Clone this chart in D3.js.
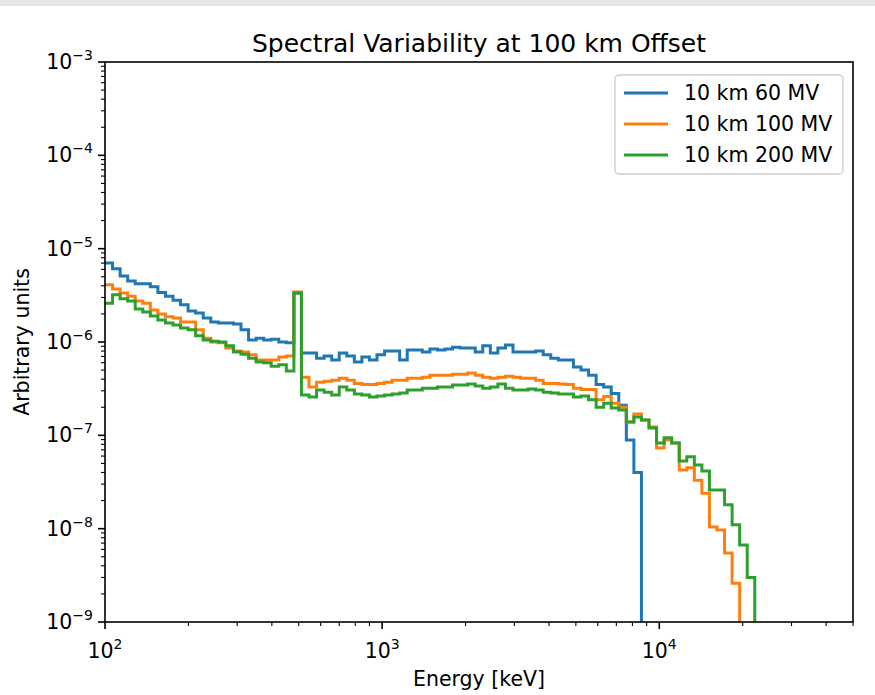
<!DOCTYPE html>
<html>
<head>
<meta charset="utf-8">
<script src="https://cdn.jsdelivr.net/npm/d3@7"></script>
<style>
  html, body { margin: 0; padding: 0; background: #ffffff; }
  svg { display: block; font-family: "DejaVu Sans", sans-serif; }
</style>
</head>
<body>
<svg id="chart" width="875" height="695"></svg>
<script>
// Histogram binning: log-spaced edges from 100 keV to 50 MeV
const binLow = 100;
const binHigh = 50000;
const binCount = 99;

const seriesNames = ["10 km 60 MV", "10 km 100 MV", "10 km 200 MV"];
const seriesColors = ["#1f77b4", "#ff7f0e", "#2ca02c"];

// Counts per bin (arbitrary units); trailing zeros are empty bins
const counts60MV = [
  7.0e-6, 6.1e-6, 5.1e-6, 4.5e-6, 4.2e-6, 4.2e-6, 3.9e-6, 3.4e-6, 3.1e-6, 2.8e-6,
  2.5e-6, 2.15e-6, 2.05e-6, 1.81e-6, 1.64e-6, 1.6e-6, 1.6e-6, 1.56e-6, 1.35e-6, 1.05e-6,
  1.1e-6, 1.05e-6, 1.07e-6, 1.0e-6, 9.8e-7, 3.34e-6, 7.6e-7, 7.6e-7, 6.7e-7, 7.1e-7,
  6.4e-7, 7.6e-7, 7.1e-7, 6.1e-7, 6.9e-7, 6.4e-7, 7.3e-7, 8.0e-7, 8.0e-7, 6.4e-7,
  8.2e-7, 8.2e-7, 7.8e-7, 8.4e-7, 8.2e-7, 8.4e-7, 8.8e-7, 8.6e-7, 8.6e-7, 7.8e-7,
  9.1e-7, 7.6e-7, 8.6e-7, 9.3e-7, 7.8e-7, 7.8e-7, 7.8e-7, 8.0e-7, 7.3e-7, 6.7e-7,
  6.4e-7, 6.4e-7, 5.4e-7, 5.0e-7, 4.4e-7, 3.5e-7, 3.3e-7, 2.8e-7, 2.1e-7, 8.9e-8,
  4.0e-8, 0, 0, 0, 0, 0, 0, 0, 0, 0,
  0, 0, 0, 0, 0, 0, 0, 0, 0, 0,
  0, 0, 0, 0, 0, 0, 0, 0, 0
];

const counts100MV = [
  4.1e-6, 3.7e-6, 3.34e-6, 3.1e-6, 2.75e-6, 2.6e-6, 2.2e-6, 2.0e-6, 1.86e-6, 1.81e-6,
  1.64e-6, 1.64e-6, 1.35e-6, 1.1e-6, 1.0e-6, 9.8e-7, 8.6e-7, 8.0e-7, 7.8e-7, 7.3e-7,
  6.4e-7, 6.4e-7, 6.4e-7, 6.9e-7, 7.1e-7, 3.43e-6, 4.2e-7, 3.3e-7, 3.7e-7, 3.8e-7,
  3.9e-7, 4.1e-7, 3.9e-7, 3.6e-7, 3.5e-7, 3.5e-7, 3.6e-7, 3.7e-7, 3.9e-7, 3.9e-7,
  4.1e-7, 4.1e-7, 4.2e-7, 4.4e-7, 4.4e-7, 4.4e-7, 4.5e-7, 4.5e-7, 4.65e-7, 4.4e-7,
  4.2e-7, 4.1e-7, 4.2e-7, 4.3e-7, 4.2e-7, 4.1e-7, 4.1e-7, 3.9e-7, 3.6e-7, 3.6e-7,
  3.55e-7, 3.5e-7, 3.2e-7, 3.1e-7, 3.1e-7, 2.4e-7, 2.6e-7, 2.2e-7, 2.0e-7, 1.39e-7,
  1.69e-7, 1.46e-7, 1.23e-7, 7.3e-8, 8.9e-8, 8.3e-8, 4.25e-8, 4.5e-8, 3.3e-8, 2.4e-8,
  1.04e-8, 9.7e-9, 5.5e-9, 2.6e-9, 0, 0, 0, 0, 0, 0,
  0, 0, 0, 0, 0, 0, 0, 0, 0
];

const counts200MV = [
  2.6e-6, 3.2e-6, 2.9e-6, 2.75e-6, 2.26e-6, 2.1e-6, 1.9e-6, 1.72e-6, 1.6e-6, 1.52e-6,
  1.41e-6, 1.35e-6, 1.17e-6, 1.05e-6, 1.02e-6, 1.0e-6, 9.1e-7, 7.8e-7, 7.4e-7, 6.7e-7,
  6.1e-7, 6.0e-7, 5.5e-7, 5.7e-7, 4.9e-7, 3.34e-6, 2.7e-7, 2.57e-7, 3.06e-7, 2.9e-7,
  2.7e-7, 3.3e-7, 3.06e-7, 2.77e-7, 2.7e-7, 2.57e-7, 2.64e-7, 2.7e-7, 2.77e-7, 2.84e-7,
  3.06e-7, 3.06e-7, 3.2e-7, 3.2e-7, 3.3e-7, 3.3e-7, 3.46e-7, 3.46e-7, 3.55e-7, 3.38e-7,
  3.2e-7, 3.3e-7, 3.55e-7, 3.2e-7, 3.06e-7, 3.06e-7, 3.14e-7, 3.06e-7, 2.9e-7, 2.84e-7,
  2.77e-7, 2.77e-7, 2.57e-7, 2.64e-7, 2.4e-7, 2.0e-7, 2.2e-7, 1.96e-7, 1.87e-7, 1.39e-7,
  1.57e-7, 1.46e-7, 1.2e-7, 8.3e-8, 9.4e-8, 8.3e-8, 5.3e-8, 5.9e-8, 4.8e-8, 4.15e-8,
  2.6e-8, 2.6e-8, 1.8e-8, 1.1e-8, 6.7e-9, 3.0e-9, 0, 0, 0, 0,
  0, 0, 0, 0, 0, 0, 0, 0, 0
];

const seriesData = [counts60MV, counts100MV, counts200MV];

const xMajorTicks = [1e2, 1e3, 1e4];
const xTickExponents = ["2", "3", "4"];
const yMajorTicks = [1e-3, 1e-4, 1e-5, 1e-6, 1e-7, 1e-8, 1e-9];
const yTickExponents = ["\u22123", "\u22124", "\u22125", "\u22126", "\u22127", "\u22128", "\u22129"];

const titleText = "Spectral Variability at 100 km Offset";
const xLabelText = "Energy [keV]";
const yLabelText = "Arbitrary units";

// ---- layout ----
const plot = { left: 105, right: 853, top: 62, bottom: 622 };
const labelSize = 20.5;
const supSize = 14;

const svg = d3.select("#chart");

// thin grey band along the top edge of the page
svg.append("rect").attr("x", 0).attr("y", 0).attr("width", 875).attr("height", 6)
  .attr("fill", "#e6e6e6");

const x = d3.scaleLog().domain([binLow, binHigh]).range([plot.left, plot.right]);
const y = d3.scaleLog().domain([1e-9, 1e-3]).range([plot.bottom, plot.top]);

const edges = d3.range(binCount + 1).map(i => binLow * Math.pow(binHigh / binLow, i / binCount));

svg.append("clipPath").attr("id", "plotClip")
  .append("rect")
  .attr("x", plot.left).attr("y", plot.top)
  .attr("width", plot.right - plot.left).attr("height", plot.bottom - plot.top);

// step outline of each histogram
function stepPoints(values) {
  let last = -1;
  values.forEach((v, i) => { if (v > 0) last = i; });
  const pts = [];
  for (let i = 0; i <= last; i++) {
    const yy = values[i] > 0 ? y(values[i]) : plot.bottom + 5;
    pts.push([x(edges[i]), yy]);
    pts.push([x(edges[i + 1]), yy]);
  }
  if (last >= 0) pts.push([x(edges[last + 1]), plot.bottom + 5]);
  return pts;
}

const line = d3.line();
const dataLayer = svg.append("g").attr("clip-path", "url(#plotClip)");
seriesData.forEach((vals, si) => {
  dataLayer.append("path")
    .attr("d", line(stepPoints(vals)))
    .attr("fill", "none")
    .attr("stroke", seriesColors[si])
    .attr("stroke-width", 3)
    .attr("stroke-linejoin", "miter")
    .attr("stroke-linecap", "butt");
});

// ---- axes ----
const tickColor = "#000";
const axisG = svg.append("g");

// minor ticks
const xMinor = [];
[100, 1000, 10000].forEach(d => { for (let m = 2; m <= 9; m++) { const v = d * m; if (v <= binHigh) xMinor.push(v); } });
xMinor.forEach(v => {
  axisG.append("line").attr("x1", x(v)).attr("x2", x(v))
    .attr("y1", plot.bottom).attr("y2", plot.bottom + 4)
    .attr("stroke", tickColor).attr("stroke-width", 1.1);
});
const yMinor = [];
[1e-9, 1e-8, 1e-7, 1e-6, 1e-5, 1e-4].forEach(d => { for (let m = 2; m <= 9; m++) yMinor.push(d * m); });
yMinor.forEach(v => {
  axisG.append("line").attr("y1", y(v)).attr("y2", y(v))
    .attr("x1", plot.left).attr("x2", plot.left - 4)
    .attr("stroke", tickColor).attr("stroke-width", 1.1);
});

// major ticks and labels
xMajorTicks.forEach((v, i) => {
  axisG.append("line").attr("x1", x(v)).attr("x2", x(v))
    .attr("y1", plot.bottom).attr("y2", plot.bottom + 7)
    .attr("stroke", tickColor).attr("stroke-width", 1.6);
  const t = axisG.append("text").attr("x", x(v)).attr("y", plot.bottom + 36)
    .attr("text-anchor", "middle").attr("font-size", labelSize).attr("fill", "#000");
  t.append("tspan").text("10");
  t.append("tspan").attr("dy", -9).attr("font-size", supSize).text(xTickExponents[i]);
});
yMajorTicks.forEach((v, i) => {
  axisG.append("line").attr("y1", y(v)).attr("y2", y(v))
    .attr("x1", plot.left).attr("x2", plot.left - 7)
    .attr("stroke", tickColor).attr("stroke-width", 1.6);
  const t = axisG.append("text").attr("x", plot.left - 12).attr("y", y(v) + 7)
    .attr("text-anchor", "end").attr("font-size", labelSize).attr("fill", "#000");
  t.append("tspan").text("10");
  t.append("tspan").attr("dy", -9).attr("font-size", supSize).text(yTickExponents[i]);
});

// frame
svg.append("rect")
  .attr("x", plot.left).attr("y", plot.top)
  .attr("width", plot.right - plot.left).attr("height", plot.bottom - plot.top)
  .attr("fill", "none").attr("stroke", "#000").attr("stroke-width", 1.6);

// title and axis labels
svg.append("text").attr("x", (plot.left + plot.right) / 2).attr("y", 52)
  .attr("text-anchor", "middle").attr("font-size", 25).attr("fill", "#000").text(titleText);
svg.append("text").attr("x", (plot.left + plot.right) / 2).attr("y", 686)
  .attr("text-anchor", "middle").attr("font-size", labelSize).attr("fill", "#000").text(xLabelText);
svg.append("text")
  .attr("transform", `translate(29, ${(plot.top + plot.bottom) / 2}) rotate(-90)`)
  .attr("text-anchor", "middle").attr("font-size", labelSize).attr("fill", "#000").text(yLabelText);

// legend
const legend = svg.append("g");
legend.append("rect")
  .attr("x", 615).attr("y", 75).attr("width", 228).attr("height", 99)
  .attr("rx", 4).attr("ry", 4)
  .attr("fill", "#fff").attr("fill-opacity", 0.8)
  .attr("stroke", "#cccccc").attr("stroke-width", 1.3);
seriesNames.forEach((name, i) => {
  const ly = 93 + i * 31;
  legend.append("line").attr("x1", 624).attr("x2", 668).attr("y1", ly).attr("y2", ly)
    .attr("stroke", seriesColors[i]).attr("stroke-width", 3);
  legend.append("text").attr("x", 684).attr("y", ly + 7)
    .attr("font-size", labelSize).attr("fill", "#000").text(name);
});
</script>
</body>
</html>
